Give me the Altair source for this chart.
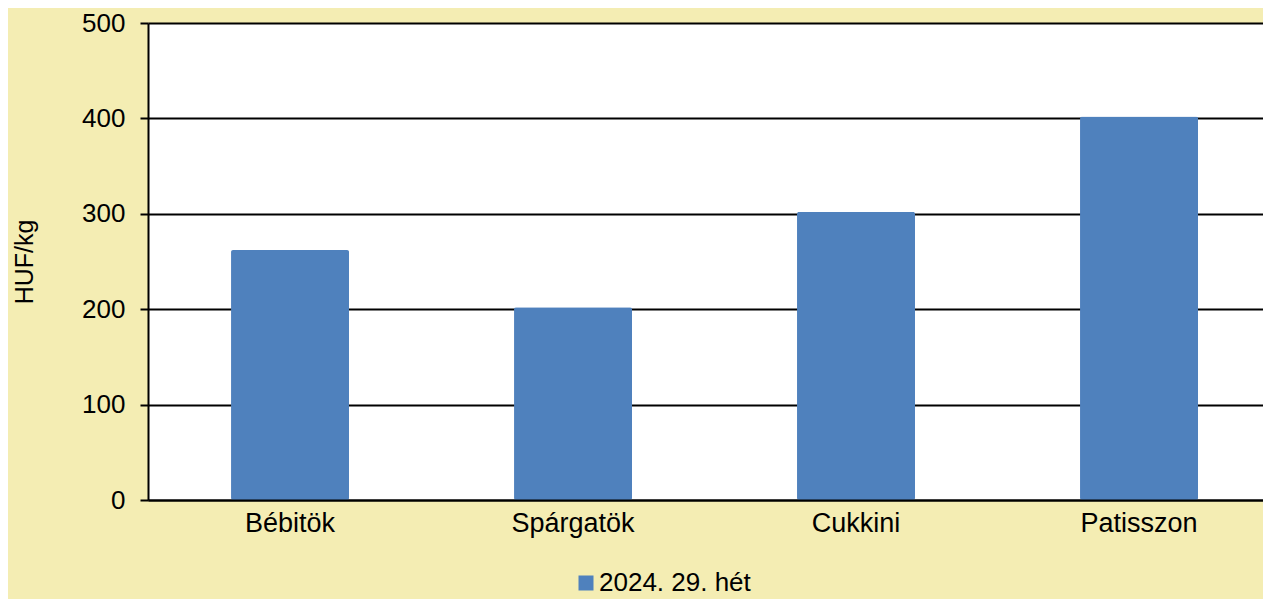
import altair as alt
import pandas as pd

categories = ["Bébitök", "Spárgatök", "Cukkini", "Patisszon"]
values = [262, 202, 302, 402]
series = ["2024. 29. hét"] * 4

df = pd.DataFrame({"termek": categories, "ar": values, "het": series})

FONT = "Liberation Sans"
BG = "#F4EDB3"

bars = alt.Chart(df).mark_bar(cornerRadius=2, y2Offset=2).encode(
    x=alt.X("termek:N", sort=categories, title=None,
            scale=alt.Scale(paddingInner=0.583, paddingOuter=0.2615, align=0.561),
            axis=alt.Axis(labelAngle=0, labelFont=FONT, labelFontSize=27, labelColor="black",
                          labelPadding=10, ticks=False, domainColor="black", domainWidth=2,
                          grid=False, zindex=1)),
    y=alt.Y("ar:Q", title="HUF/kg",
            scale=alt.Scale(domain=[0, 500], nice=False),
            axis=alt.Axis(values=[0, 100, 200, 300, 400, 500], labelFont=FONT, labelFontSize=26,
                          labelColor="black", labelPadding=15, tickSize=8, tickColor="black",
                          tickWidth=2, domainColor="black", domainWidth=2,
                          gridColor="black", gridWidth=2, titleFont=FONT, titleFontSize=25,
                          titleFontWeight="normal", titleColor="black", titlePadding=44)),
    color=alt.Color("het:N", scale=alt.Scale(range=["#4F81BD"]),
                    legend=alt.Legend(title=None, orient="none", legendX=425, legendY=547,
                                      symbolType="square", symbolSize=225, labelFont=FONT,
                                      labelFontSize=26, labelColor="black", labelOffset=0,
                                      symbolStrokeWidth=0)),
)

chart = bars.properties(
    width=1115, height=477, background=BG,
    padding={"left": 140, "top": 15, "right": 0, "bottom": 99},
    autosize=alt.AutoSizeParams(type="none"),
).configure_view(fill="white", stroke=None)

chart.save("out.html", embed_options={"renderer": "svg", "actions": False})
